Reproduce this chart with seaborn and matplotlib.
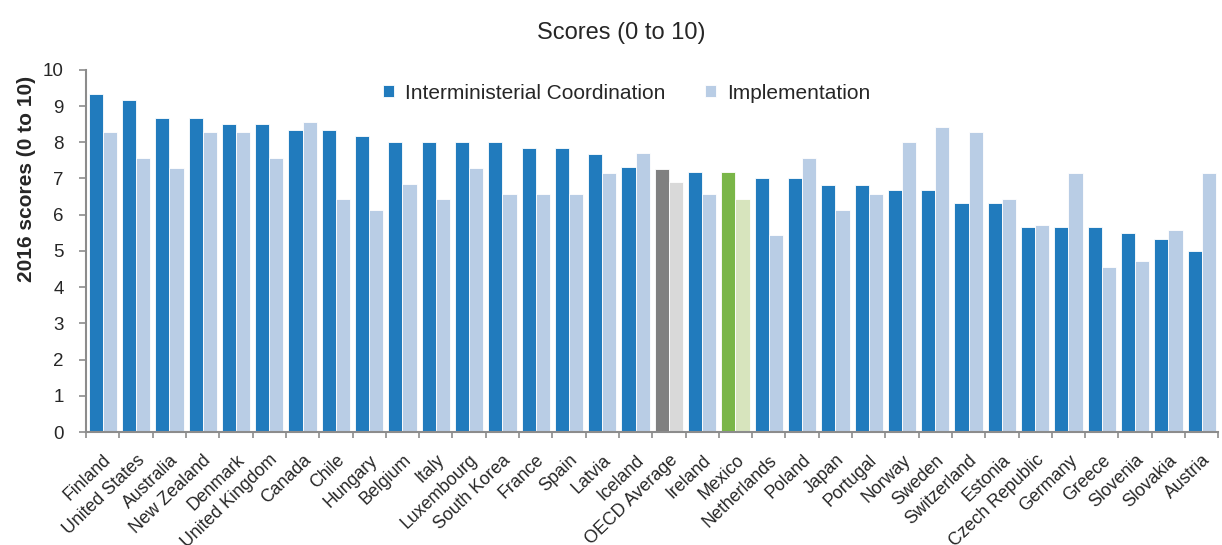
import pandas as pd
import matplotlib.pyplot as plt
import matplotlib.transforms as mtransforms
from matplotlib.ticker import MultipleLocator, FixedLocator
import seaborn as sns

countries = ["Finland", "United States", "Australia", "New Zealand", "Denmark",
             "United Kingdom", "Canada", "Chile", "Hungary", "Belgium", "Italy",
             "Luxembourg", "South Korea", "France", "Spain", "Latvia", "Iceland",
             "OECD Average", "Ireland", "Mexico", "Netherlands", "Poland", "Japan",
             "Portugal", "Norway", "Sweden", "Switzerland", "Estonia",
             "Czech Republic", "Germany", "Greece", "Slovenia", "Slovakia", "Austria"]
coordination = [9.33, 9.17, 8.67, 8.67, 8.5, 8.5, 8.33, 8.33, 8.17, 8.0, 8.0,
                8.0, 8.0, 7.83, 7.83, 7.67, 7.33, 7.27, 7.17, 7.17, 7.0, 7.0,
                6.83, 6.83, 6.67, 6.67, 6.33, 6.33, 5.67, 5.67, 5.67, 5.5, 5.33, 5.0]
implementation = [8.29, 7.57, 7.29, 8.29, 8.29, 7.57, 8.57, 6.43, 6.14, 6.86, 6.43,
                  7.29, 6.57, 6.57, 6.57, 7.14, 7.71, 6.91, 6.57, 6.43, 5.43, 7.57,
                  6.14, 6.57, 8.0, 8.43, 8.29, 6.43, 5.71, 7.14, 4.57, 4.71, 5.57, 7.14]

series = ["Interministerial Coordination", "Implementation"]
colors = ["#217bbd", "#b9cde5"]
highlight = {"OECD Average": ("#808080", "#d9d9d9"),
             "Mexico": ("#7ab648", "#d7e4bd")}

df = pd.DataFrame({"Country": countries,
                   series[0]: coordination,
                   series[1]: implementation})
long_df = df.melt(id_vars="Country", var_name="Measure", value_name="Score")

sns.set_theme(style="white")
plt.rcParams["font.family"] = ["Liberation Sans", "DejaVu Sans"]

fig, ax = plt.subplots(figsize=(12.22, 5.45), dpi=100)
fig.subplots_adjust(left=0.0705, right=0.997, top=0.872, bottom=0.207)

sns.barplot(data=long_df, x="Country", y="Score", hue="Measure",
            hue_order=series, palette=colors, width=0.85, saturation=1,
            edgecolor="white", linewidth=0.6, ax=ax)

# recolour the highlighted groups
for j, cont in enumerate(ax.containers):
    for i, patch in enumerate(cont.patches):
        if countries[i] in highlight:
            patch.set_facecolor(highlight[countries[i]][j])

ax.set_xlim(-0.5, len(countries) - 0.5)
ax.set_ylim(0, 10)
ax.yaxis.set_major_locator(MultipleLocator(1))

ax.set_xlabel("")
ax.set_ylabel("2016 scores (0 to 10)", fontsize=15, fontweight="bold")
ax.yaxis.set_label_coords(-0.044, 0.70)
ax.set_title("Scores (0 to 10)", fontsize=17, x=0.473, pad=22)

ax.set_xticks(range(len(countries)))
ax.set_xticklabels(countries, rotation=44, ha="right", rotation_mode="anchor",
                   fontsize=12.8)
shift = mtransforms.ScaledTranslation(-9 / 72, 0, fig.dpi_scale_trans)
for lab in ax.get_xticklabels():
    lab.set_transform(lab.get_transform() + shift)
ax.xaxis.set_minor_locator(FixedLocator([i - 0.5 for i in range(len(countries) + 1)]))
ax.tick_params(axis="x", which="major", length=0, pad=14)
ax.tick_params(axis="x", which="minor", length=4, width=1.2, color="#8c8c8c",
               direction="out", bottom=True)
ax.tick_params(axis="y", length=5, width=1.2, color="#8c8c8c", direction="out",
               left=True, labelsize=13.5, pad=11)

for side in ["top", "right"]:
    ax.spines[side].set_visible(False)
for side in ["left", "bottom"]:
    ax.spines[side].set_color("#8c8c8c")
    ax.spines[side].set_linewidth(1.5)

handles, labels = ax.get_legend_handles_labels()
ax.legend(handles, labels, loc="center", bbox_to_anchor=(0.513, 0.829),
          bbox_transform=fig.transFigure, ncol=2, frameon=False, fontsize=15,
          handlelength=0.5, handleheight=0.5, handletextpad=0.55,
          columnspacing=1.9)

plt.savefig("out.png", dpi=100)
